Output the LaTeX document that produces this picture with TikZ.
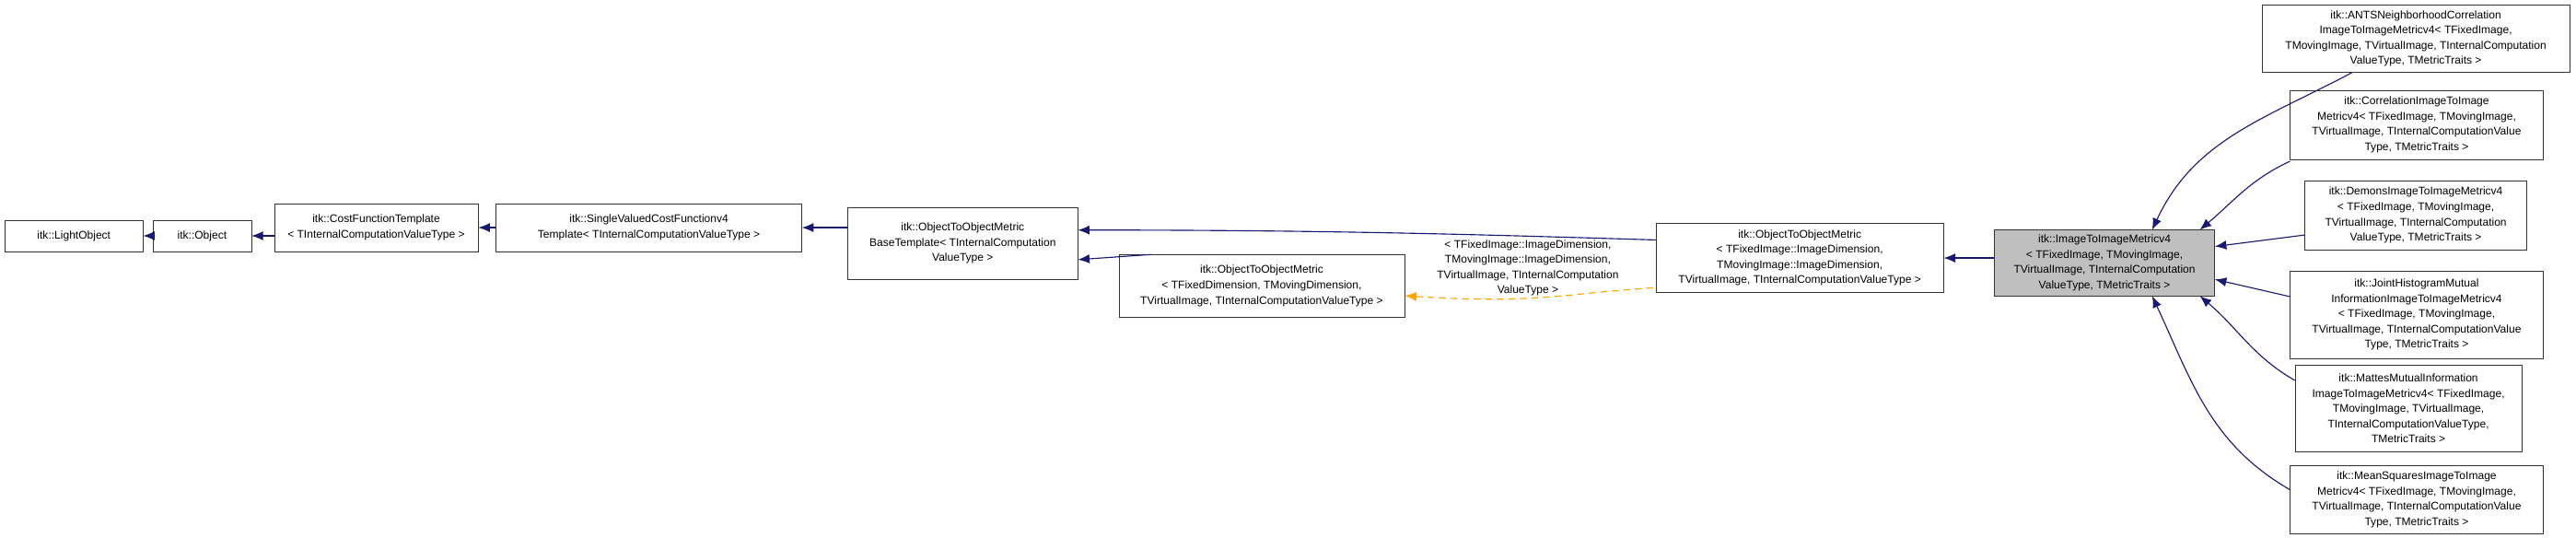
\documentclass[tikz,border=0pt]{standalone}
\usepackage{fontspec}
\setmainfont{Liberation Sans}
\usetikzlibrary{arrows.meta}
\definecolor{edgeblue}{HTML}{191970}
\definecolor{dashorange}{HTML}{FFA500}
\tikzset{
  cls/.style={draw=black!80, fill=white, inner sep=1pt, align=center, font=\fontsize{9.6}{13.2}\selectfont},
  inh/.style={draw=edgeblue, line width=0.9pt, {Latex[length=10pt,width=8pt]}-},
  tmpl/.style={draw=dashorange, line width=0.9pt, dashed, dash pattern=on 6pt off 4pt, {Latex[length=10pt,width=8pt]}-},
  lbl/.style={align=center, font=\fontsize{9.6}{13.2}\selectfont}
}
\begin{document}
\begin{tikzpicture}[x=0.05cm,y=-0.05cm]
\useasboundingbox (0,0) rectangle (1568,327);
\node[cls, minimum width=4.2cm, minimum height=0.95cm] (lo) at (45,143.5) {itk::LightObject};
\node[cls, minimum width=3.0cm, minimum height=0.95cm] (ob) at (123,143.5) {itk::Object};
\node[cls, minimum width=6.2cm, minimum height=1.45cm] (cf) at (229,138.5) {itk::CostFunctionTemplate\\ \textless{} TInternalComputationValueType \textgreater};
\node[cls, minimum width=9.3cm, minimum height=1.45cm] (sv) at (395,138.5) {itk::SingleValuedCostFunctionv4\\Template\textless{} TInternalComputationValueType \textgreater};
\node[cls, minimum width=7.0cm, minimum height=2.2cm] (base) at (586,148) {itk::ObjectToObjectMetric\\BaseTemplate\textless{} TInternalComputation\\ValueType \textgreater};
\node[cls, minimum width=8.7cm, minimum height=1.9cm] (otofd) at (768,174) {itk::ObjectToObjectMetric\\ \textless{} TFixedDimension, TMovingDimension,\\ TVirtualImage, TInternalComputationValueType \textgreater};
\node[cls, minimum width=8.75cm, minimum height=2.1cm] (otomid) at (1095.5,157) {itk::ObjectToObjectMetric\\ \textless{} TFixedImage::ImageDimension,\\ TMovingImage::ImageDimension,\\ TVirtualImage, TInternalComputationValueType \textgreater};
\node[cls, fill=black!25, minimum width=6.7cm, minimum height=2.0cm] (gray) at (1281,160) {itk::ImageToImageMetricv4\\ \textless{} TFixedImage, TMovingImage,\\ TVirtualImage, TInternalComputation\\ValueType, TMetricTraits \textgreater};
\node[cls, minimum width=9.35cm, minimum height=2.05cm] (ants) at (1470.5,23.5) {itk::ANTSNeighborhoodCorrelation\\ImageToImageMetricv4\textless{} TFixedImage,\\ TMovingImage, TVirtualImage, TInternalComputation\\ValueType, TMetricTraits \textgreater};
\node[cls, minimum width=7.7cm, minimum height=2.1cm] (corr) at (1471,76) {itk::CorrelationImageToImage\\Metricv4\textless{} TFixedImage, TMovingImage,\\ TVirtualImage, TInternalComputationValue\\Type, TMetricTraits \textgreater};
\node[cls, minimum width=6.75cm, minimum height=2.1cm] (dem) at (1470.5,131) {itk::DemonsImageToImageMetricv4\\ \textless{} TFixedImage, TMovingImage,\\ TVirtualImage, TInternalComputation\\ValueType, TMetricTraits \textgreater};
\node[cls, minimum width=7.7cm, minimum height=2.65cm] (joint) at (1471,191.5) {itk::JointHistogramMutual\\InformationImageToImageMetricv4\\ \textless{} TFixedImage, TMovingImage,\\ TVirtualImage, TInternalComputationValue\\Type, TMetricTraits \textgreater};
\node[cls, minimum width=6.9cm, minimum height=2.65cm] (mattes) at (1466,248.5) {itk::MattesMutualInformation\\ImageToImageMetricv4\textless{} TFixedImage,\\ TMovingImage, TVirtualImage,\\ TInternalComputationValueType,\\ TMetricTraits \textgreater};
\node[cls, minimum width=7.7cm, minimum height=2.1cm] (ms) at (1471,304) {itk::MeanSquaresImageToImage\\Metricv4\textless{} TFixedImage, TMovingImage,\\ TVirtualImage, TInternalComputationValue\\Type, TMetricTraits \textgreater};
\node[lbl] (tl) at (930,163) {\textless{} TFixedImage::ImageDimension,\\TMovingImage::ImageDimension,\\TVirtualImage, TInternalComputation\\ValueType \textgreater};
% inheritance
\draw[inh] (lo.east) -- (ob.west);
\draw[inh] (ob.east) -- (ob.east -| cf.west);
\draw[inh] (cf.east) -- (sv.west);
\draw[inh] (sv.east) -- (sv.east -| base.west);
\draw[inh] ([yshift=0.4cm]base.east) .. controls +(8cm,0) and +(-5cm,0.15cm) .. ([yshift=0.55cm]otomid.west);
\draw[inh] ([yshift=-0.5cm]base.east) -- ([xshift=1cm]otofd.north west);
\draw[inh] (otomid.east) -- (otomid.east -| gray.west);
\draw[tmpl] ([yshift=-0.3cm]otofd.east) .. controls +(4cm,-0.25cm) and +(-3cm,-0.2cm) .. ([yshift=-0.9cm]otomid.west);
\draw[inh] ([xshift=1.45cm]gray.north) to[out=65,in=208] (ants.-152);
\draw[inh] ([xshift=2.9cm]gray.north) to[out=40,in=205] ([yshift=-0.05cm]corr.south west);
\draw[inh] ([yshift=0.5cm]gray.east) -- ([yshift=-0.6cm]dem.west);
\draw[inh] ([yshift=-0.5cm]gray.east) -- ([yshift=0.55cm]joint.west);
\draw[inh] ([xshift=2.9cm]gray.south) to[out=-40,in=150] ([yshift=0.85cm]mattes.west);
\draw[inh] ([xshift=1.45cm]gray.south) to[out=-65,in=150] ([yshift=0.3cm]ms.west);
\end{tikzpicture}
\end{document}
